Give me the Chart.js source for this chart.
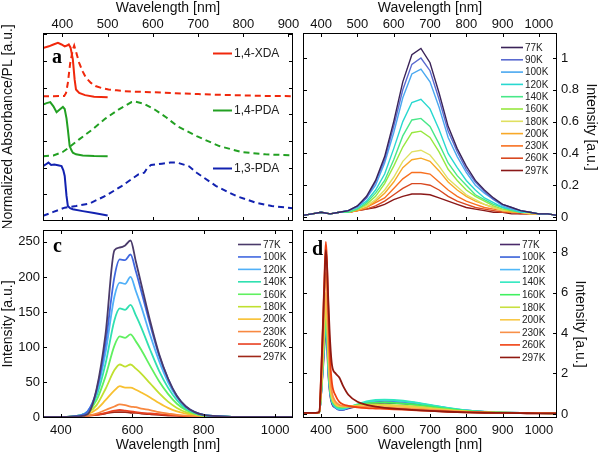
<!DOCTYPE html>
<html>
<head>
<meta charset="utf-8">
<script src="https://cdn.jsdelivr.net/npm/chart.js@4"></script>
<style>
  body { margin: 0; background: #fff; }
  #wrap { position: relative; width: 600px; height: 457px; }
  canvas { position: absolute; }
</style>
</head>
<body>
<div id="wrap">
  <canvas id="panelA" width="310" height="228" style="left:0;top:0"></canvas>
  <canvas id="panelB" width="300" height="228" style="left:300px;top:0"></canvas>
  <canvas id="panelC" width="300" height="229" style="left:0;top:228px"></canvas>
  <canvas id="panelD" width="300" height="229" style="left:300px;top:228px"></canvas>
</div>
<script>
// ---- panel a: absorbance (solid) and PL (dashed), offset stack ----
const xdaAbsWl = [357, 370, 380, 390, 398, 405, 410, 414, 418, 423, 427, 430, 437, 450, 470, 500];
const xdaAbs = [6.49, 6.55, 6.62, 6.68, 6.62, 6.55, 6.58, 6.62, 6.5, 6.06, 5.3, 4.93, 4.8, 4.72, 4.66, 4.64];
const xdaPlWl = [357, 380, 404, 408, 412, 417, 423, 426, 430, 437, 445, 452, 463, 473, 490, 502, 520, 538, 560, 600, 650, 700, 750, 800, 850, 910];
const xdaPl = [4.68, 4.68, 4.69, 4.8, 5.18, 5.9, 6.43, 6.58, 6.35, 5.93, 5.6, 5.37, 5.18, 5.06, 4.97, 4.93, 4.9, 4.87, 4.85, 4.83, 4.79, 4.76, 4.73, 4.71, 4.69, 4.68];
const pda14AbsWl = [357, 365, 373, 380, 387, 394, 401, 405, 409, 412, 416, 420, 423, 430, 445, 470, 500];
const pda14Abs = [4.37, 4.42, 4.46, 4.3, 4.08, 4.18, 4.28, 4.2, 3.85, 3.43, 2.81, 2.65, 2.56, 2.5, 2.46, 2.44, 2.43];
const pda14PlWl = [357, 380, 400, 409, 437, 466, 495, 524, 553, 560, 580, 604, 630, 654, 697, 747, 798, 849, 910];
const pda14Pl = [2.43, 2.46, 2.58, 2.69, 3.06, 3.43, 3.84, 4.18, 4.46, 4.48, 4.4, 4.18, 3.88, 3.56, 3.18, 2.81, 2.58, 2.5, 2.46];
const pda13AbsWl = [357, 363, 369, 375, 382, 390, 398, 402, 405, 409, 412, 417, 423, 445, 470, 500];
const pda13Abs = [2.06, 2.12, 2.19, 2.1, 2.12, 2.09, 2.06, 1.9, 1.69, 0.94, 0.56, 0.48, 0.44, 0.37, 0.3, 0.21];
const pda13PlWl = [357, 380, 405, 430, 459, 495, 531, 568, 581, 588, 596, 620, 639, 654, 680, 697, 740, 784, 827, 863, 910];
const pda13Pl = [0.19, 0.34, 0.5, 0.56, 0.65, 0.94, 1.31, 1.75, 1.81, 2.0, 2.1, 2.15, 2.19, 2.19, 2.05, 1.81, 1.31, 0.94, 0.69, 0.56, 0.48];
const aTicksX = [400, 500, 600, 700, 800, 900];
const aTicksY = [1, 2, 3, 4, 5, 6, 7];

// ---- panel b: temperature series, normalized ----
const bWl = [350, 375, 400, 425, 450, 475, 500, 525, 550, 575, 600, 625, 650, 675, 700, 725, 750, 775, 800, 825, 850, 875, 900, 925, 950, 975, 1000, 1025, 1050];
const bTemps = ['77K', '90K', '100K', '120K', '140K', '160K', '180K', '200K', '230K', '260K', '297K'];
const b77 = [0.01, 0.02, 0.03, 0.02, 0.03, 0.04, 0.07, 0.13, 0.23, 0.38, 0.60, 0.85, 1.02, 1.06, 0.97, 0.78, 0.57, 0.43, 0.32, 0.23, 0.17, 0.12, 0.08, 0.06, 0.04, 0.03, 0.02, 0.02, 0.01];
const b90 = [0.01, 0.02, 0.03, 0.02, 0.03, 0.04, 0.07, 0.12, 0.22, 0.36, 0.57, 0.80, 0.96, 1.00, 0.92, 0.74, 0.54, 0.41, 0.30, 0.22, 0.16, 0.11, 0.08, 0.06, 0.04, 0.03, 0.02, 0.02, 0.01];
const b100 = [0.01, 0.02, 0.03, 0.02, 0.03, 0.04, 0.06, 0.12, 0.20, 0.34, 0.53, 0.75, 0.90, 0.93, 0.85, 0.69, 0.50, 0.38, 0.28, 0.20, 0.15, 0.11, 0.07, 0.05, 0.04, 0.03, 0.02, 0.02, 0.01];
const b120 = [0.01, 0.02, 0.03, 0.02, 0.03, 0.04, 0.06, 0.10, 0.17, 0.27, 0.43, 0.60, 0.72, 0.74, 0.68, 0.55, 0.40, 0.31, 0.23, 0.17, 0.12, 0.09, 0.06, 0.05, 0.03, 0.03, 0.02, 0.02, 0.01];
const b140 = [0.01, 0.02, 0.03, 0.02, 0.03, 0.03, 0.05, 0.09, 0.15, 0.23, 0.36, 0.51, 0.61, 0.62, 0.57, 0.46, 0.34, 0.26, 0.20, 0.14, 0.11, 0.08, 0.06, 0.04, 0.03, 0.03, 0.02, 0.02, 0.01];
const b160 = [0.01, 0.02, 0.03, 0.02, 0.03, 0.03, 0.05, 0.08, 0.13, 0.21, 0.32, 0.44, 0.53, 0.54, 0.50, 0.41, 0.30, 0.23, 0.17, 0.13, 0.10, 0.07, 0.05, 0.04, 0.03, 0.03, 0.02, 0.02, 0.01];
const b180 = [0.01, 0.02, 0.03, 0.02, 0.03, 0.03, 0.05, 0.07, 0.11, 0.17, 0.25, 0.35, 0.41, 0.42, 0.39, 0.32, 0.24, 0.19, 0.14, 0.11, 0.08, 0.06, 0.04, 0.04, 0.03, 0.02, 0.02, 0.02, 0.01];
const b200 = [0.01, 0.02, 0.03, 0.02, 0.03, 0.03, 0.04, 0.06, 0.10, 0.15, 0.22, 0.31, 0.36, 0.37, 0.35, 0.29, 0.22, 0.17, 0.13, 0.10, 0.08, 0.06, 0.04, 0.03, 0.03, 0.02, 0.02, 0.02, 0.01];
const b230 = [0.01, 0.02, 0.03, 0.02, 0.03, 0.03, 0.04, 0.06, 0.09, 0.12, 0.18, 0.24, 0.28, 0.28, 0.27, 0.22, 0.17, 0.13, 0.10, 0.08, 0.06, 0.05, 0.04, 0.03, 0.03, 0.02, 0.02, 0.02, 0.01];
const b260 = [0.01, 0.02, 0.03, 0.02, 0.03, 0.03, 0.04, 0.05, 0.07, 0.10, 0.14, 0.18, 0.21, 0.21, 0.20, 0.17, 0.13, 0.10, 0.08, 0.06, 0.05, 0.04, 0.03, 0.03, 0.02, 0.02, 0.02, 0.02, 0.01];
const b297 = [0.01, 0.02, 0.03, 0.02, 0.03, 0.03, 0.04, 0.05, 0.06, 0.08, 0.11, 0.13, 0.145, 0.145, 0.14, 0.12, 0.10, 0.08, 0.06, 0.05, 0.04, 0.03, 0.03, 0.02, 0.02, 0.02, 0.02, 0.02, 0.01];
const bColors = ['#3a2358', '#5a6ad0', '#4aa8f0', '#28d8d0', '#48e888', '#98e840', '#e0e060', '#f8a828', '#f87020', '#d84820', '#8a1818'];
const bTicksX = [400, 500, 600, 700, 800, 900, 1000];
const bTicksY = [0, 0.2, 0.4, 0.6, 0.8, 1];

// ---- panel c ----
const cWl = [350, 400, 450, 475, 500, 525, 550, 565, 580, 595, 610, 625, 650, 675, 700, 725, 750, 775, 800, 850, 900, 950, 1000, 1050];
const cTemps = ['77K', '100K', '120K', '140K', '160K', '180K', '200K', '230K', '260K', '297K'];
const c77 = [0, 0, 1, 4, 40, 118, 238, 242, 245, 252, 222, 190, 137, 90, 55, 30, 15, 7, 3, 1, 0, 0, 0, 0];
const c100 = [0, 0, 2, 8, 38, 105, 200, 225, 224, 232, 208, 180, 132, 88, 55, 30, 15, 7, 3, 1, 0, 0, 0, 0];
const c120 = [0, 0, 2, 8, 35, 92, 172, 192, 190, 200, 180, 158, 117, 80, 50, 28, 14, 7, 3, 1, 0, 0, 0, 0];
const c140 = [0, 0, 2, 8, 30, 76, 138, 155, 153, 160, 145, 128, 96, 66, 42, 24, 12, 6, 3, 1, 0, 0, 0, 0];
const c160 = [0, 0, 2, 7, 24, 58, 102, 115, 113, 118, 108, 96, 73, 51, 33, 19, 10, 5, 2, 1, 0, 0, 0, 0];
const c180 = [0, 0, 2, 6, 17, 40, 67, 75, 72, 75, 69, 62, 48, 34, 22, 13, 7, 4, 2, 1, 0, 0, 0, 0];
const c200 = [0, 0, 1, 4, 11, 24, 38, 44, 42, 42, 39, 35, 28, 20, 13, 8, 5, 3, 1, 0, 0, 0, 0, 0];
const c230 = [0, 0, 1, 2, 5, 10, 15, 18, 17, 15, 14, 12, 10, 7, 5, 3, 2, 1, 1, 0, 0, 0, 0, 0];
const c260 = [0, 0, 1, 2, 3, 6, 9, 10, 9, 8, 7, 6, 5, 4, 3, 2, 1, 1, 0, 0, 0, 0, 0, 0];
const c297 = [0, 0, 1, 2, 3, 5, 7, 7, 7, 6, 6, 5, 4, 3, 2, 2, 1, 1, 0, 0, 0, 0, 0, 0];
const cColors = ['#4a3a6a', '#4068e0', '#50b0f8', '#30e0b0', '#60f060', '#c0e030', '#f8c030', '#f88840', '#e84020', '#a02818'];
const cTicksX = [400, 600, 800, 1000];
const cTicksY = [0, 50, 100, 150, 200, 250];

// ---- panel d ----
const dWl = [350, 385, 395, 400, 405, 410, 413, 416, 420, 425, 430, 440, 450, 460, 475, 500, 525, 550, 575, 600, 650, 700, 750, 800, 850, 900, 950, 1000, 1050];
const dTemps = ['77K', '100K', '120K', '140K', '160K', '180K', '200K', '230K', '260K', '297K'];
const d77 = [0.05, 0.05, 0.08, 1.0, 2.2, 3.6, 4.2, 3.5, 1.9, 0.9, 0.5, 0.3, 0.22, 0.22, 0.28, 0.38, 0.46, 0.52, 0.55, 0.54, 0.48, 0.37, 0.25, 0.16, 0.1, 0.07, 0.05, 0.04, 0.03];
const d100 = [0.05, 0.05, 0.08, 1.0, 2.4, 3.9, 4.5, 3.8, 2.1, 1.0, 0.55, 0.3, 0.2, 0.2, 0.3, 0.42, 0.55, 0.62, 0.65, 0.63, 0.55, 0.42, 0.28, 0.17, 0.1, 0.07, 0.05, 0.04, 0.03];
const d120 = [0.05, 0.05, 0.08, 1.0, 2.5, 4.0, 4.7, 4.0, 2.2, 1.05, 0.6, 0.33, 0.24, 0.24, 0.32, 0.45, 0.58, 0.65, 0.68, 0.66, 0.57, 0.43, 0.29, 0.17, 0.1, 0.07, 0.05, 0.04, 0.03];
const d140 = [0.05, 0.05, 0.08, 1.0, 2.5, 4.1, 4.8, 4.1, 2.3, 1.1, 0.62, 0.35, 0.27, 0.28, 0.35, 0.48, 0.62, 0.69, 0.71, 0.69, 0.6, 0.45, 0.3, 0.18, 0.11, 0.07, 0.05, 0.04, 0.03];
const d160 = [0.05, 0.05, 0.08, 1.1, 2.6, 4.3, 5.0, 4.3, 2.5, 1.2, 0.7, 0.42, 0.34, 0.33, 0.36, 0.44, 0.52, 0.56, 0.57, 0.55, 0.48, 0.37, 0.25, 0.15, 0.1, 0.07, 0.05, 0.04, 0.03];
const d180 = [0.05, 0.05, 0.08, 1.1, 2.8, 4.6, 5.3, 4.6, 2.7, 1.3, 0.75, 0.45, 0.37, 0.36, 0.37, 0.42, 0.46, 0.47, 0.46, 0.44, 0.38, 0.3, 0.21, 0.13, 0.09, 0.06, 0.05, 0.04, 0.03];
const d200 = [0.05, 0.05, 0.08, 1.3, 3.1, 5.1, 6.0, 5.2, 3.1, 1.5, 0.85, 0.5, 0.4, 0.38, 0.38, 0.4, 0.41, 0.41, 0.4, 0.38, 0.32, 0.25, 0.18, 0.12, 0.08, 0.06, 0.05, 0.04, 0.03];
const d230 = [0.05, 0.05, 0.08, 1.5, 3.6, 6.0, 7.0, 6.1, 3.7, 1.8, 1.05, 0.6, 0.45, 0.4, 0.37, 0.36, 0.35, 0.34, 0.32, 0.3, 0.25, 0.2, 0.15, 0.1, 0.07, 0.05, 0.04, 0.04, 0.03];
const d260 = [0.05, 0.05, 0.1, 2.0, 4.5, 7.3, 8.5, 7.6, 5.0, 2.6, 1.5, 0.9, 0.6, 0.48, 0.4, 0.33, 0.29, 0.27, 0.25, 0.23, 0.19, 0.15, 0.11, 0.08, 0.06, 0.05, 0.04, 0.03, 0.03];
const d297 = [0.05, 0.05, 0.1, 1.9, 4.3, 7.0, 8.1, 7.4, 5.5, 3.5, 2.4, 2.0, 1.8, 1.4, 0.95, 0.6, 0.45, 0.36, 0.3, 0.26, 0.2, 0.15, 0.11, 0.08, 0.06, 0.05, 0.04, 0.03, 0.03];
const dColors = ['#4a2a6a', '#3860d8', '#50b8f8', '#30e8c0', '#40f060', '#c8e040', '#f8c848', '#f89048', '#f04010', '#901810'];
const dTicksX = [400, 500, 600, 700, 800, 900, 1000];
const dTicksY = [0, 2, 4, 6, 8];

const FONT = '"Liberation Sans", Arial, sans-serif';
Chart.defaults.font.family = FONT;
Chart.defaults.color = '#111';

function series(wl, vals, color, label, opts) {
  return Object.assign({
    label: label,
    data: wl.map((x, i) => ({ x: x, y: vals[i] })),
    borderColor: color,
    borderWidth: 1.6,
    pointRadius: 0,
    fill: false,
    inLegend: !!label
  }, opts || {});
}

function axis(pos, min, max, ticks, size, title, o) {
  o = o || {};
  const horiz = pos === 'top' || pos === 'bottom';
  return {
    type: 'linear', position: pos, min: min, max: max, bounds: 'data',
    grid: { display: false, drawTicks: false },
    border: { display: false },
    afterBuildTicks: s => { s.ticks = ticks.map(v => ({ value: v })); },
    afterFit: s => {
      if (horiz) s.height = size; else s.width = size;
      s.paddingTop = s.paddingBottom = s.paddingLeft = s.paddingRight = 0;
    },
    ticks: {
      display: o.labels !== false, autoSkip: false, maxRotation: 0,
      padding: o.labelPad || 3, font: { size: 13 }, color: '#111',
      callback: v => String(v)
    },
    title: {
      display: !!title, text: title, font: { size: 14 }, color: '#111',
      padding: { top: o.titlePad || 0, bottom: o.titlePad || 0 }
    }
  };
}

// box frame with inward ticks on all four sides
const framePlugin = {
  id: 'frame',
  afterDatasetsDraw(chart) {
    const { ctx, chartArea: a, scales } = chart;
    ctx.save();
    ctx.strokeStyle = '#000';
    ctx.lineWidth = 1;
    ctx.setLineDash([]);
    ctx.strokeRect(a.left + 0.5, a.top + 0.5, a.width - 1, a.height - 1);
    ctx.beginPath();
    scales.x.ticks.forEach(t => {
      const px = Math.round(scales.x.getPixelForValue(t.value)) + 0.5;
      ctx.moveTo(px, a.top); ctx.lineTo(px, a.top + 4);
      ctx.moveTo(px, a.bottom); ctx.lineTo(px, a.bottom - 4);
    });
    scales.y.ticks.forEach(t => {
      const py = Math.round(scales.y.getPixelForValue(t.value)) + 0.5;
      ctx.moveTo(a.left, py); ctx.lineTo(a.left + 4, py);
      ctx.moveTo(a.right, py); ctx.lineTo(a.right - 4, py);
    });
    ctx.stroke();
    ctx.restore();
  }
};

// legend drawn inside the plot + panel letter
const innerLegend = {
  id: 'innerLegend',
  afterDraw(chart, args, opts) {
    const ctx = chart.ctx;
    ctx.save();
    ctx.font = (opts.fontSize || 10) + 'px ' + FONT;
    ctx.textBaseline = 'middle';
    ctx.fillStyle = '#222';
    chart.data.datasets.filter(d => d.inLegend).forEach((d, i) => {
      const y = d.legendY !== undefined ? d.legendY : opts.y0 + i * opts.step;
      ctx.strokeStyle = d.borderColor;
      ctx.lineWidth = opts.lineWidth || 1.6;
      ctx.setLineDash([]);
      ctx.beginPath();
      ctx.moveTo(opts.x0, y + 0.5);
      ctx.lineTo(opts.x1, y + 0.5);
      ctx.stroke();
      ctx.fillText(d.label, opts.x1 + 2, y + 1);
    });
    ctx.font = 'bold 20px "Liberation Serif", "Times New Roman", serif';
    ctx.fillStyle = '#000';
    ctx.textBaseline = 'alphabetic';
    ctx.fillText(opts.tag, opts.tagX, opts.tagY);
    ctx.restore();
  }
};

function makeChart(id, datasets, pad, scales, legend) {
  return new Chart(document.getElementById(id), {
    type: 'line',
    data: { datasets: datasets },
    options: {
      responsive: false,
      animation: false,
      devicePixelRatio: 1,
      layout: { padding: pad },
      plugins: { legend: { display: false }, tooltip: { enabled: false }, innerLegend: legend },
      scales: scales
    },
    plugins: [framePlugin, innerLegend]
  });
}

// panel a
const red = '#f0280c', green = '#22a022', blue = '#1222b0';
makeChart('panelA', [
  series(xdaAbsWl, xdaAbs, red, '1,4-XDA', { borderWidth: 2, legendY: 53 }),
  series(xdaPlWl, xdaPl, red, '', { borderWidth: 2, borderDash: [6, 4] }),
  series(pda14AbsWl, pda14Abs, green, '1,4-PDA', { borderWidth: 2, legendY: 110 }),
  series(pda14PlWl, pda14Pl, green, '', { borderWidth: 2, borderDash: [6, 4] }),
  series(pda13AbsWl, pda13Abs, blue, '1,3-PDA', { borderWidth: 2, legendY: 168 }),
  series(pda13PlWl, pda13Pl, blue, '', { borderWidth: 2, borderDash: [6, 4] })
], { left: 0, top: 0, right: 17, bottom: 7 }, {
  x: axis('top', 357, 910, aTicksX, 33, 'Wavelength [nm]', { labelPad: 1 }),
  y: axis('left', 0, 7.05, aTicksY, 43, 'Normalized Absorbance/PL [a.u.]', { labels: false })
}, { x0: 213, x1: 232, fontSize: 12, lineWidth: 2, tag: 'a', tagX: 52, tagY: 63 });

// panel b
const bVals = [b77, b90, b100, b120, b140, b160, b180, b200, b230, b260, b297];
makeChart('panelB', bVals.map((v, i) => series(bWl, v, bColors[i], bTemps[i], { borderWidth: 1.4 })),
  { left: 3, top: 0, right: 0, bottom: 7 }, {
  x: axis('top', 350, 1050, bTicksX, 33, 'Wavelength [nm]', { labelPad: 1 }),
  y: axis('right', -0.025, 1.157, bTicksY, 43, 'Intensity [a.u.]', { labelPad: 4, titlePad: 1 })
}, { x0: 201, x1: 223, y0: 47, step: 12.3, tag: 'b', tagX: 316, tagY: 67 });

// panel c
const cVals = [c77, c100, c120, c140, c160, c180, c200, c230, c260, c297];
makeChart('panelC', cVals.map((v, i) => series(cWl, v, cColors[i], cTemps[i], { borderWidth: 1.8, cubicInterpolationMode: 'monotone' })),
  { left: 0, top: 2, right: 7, bottom: 0 }, {
  x: axis('bottom', 350, 1050, cTicksX, 39, 'Wavelength [nm]', { labelPad: 5, titlePad: 3 }),
  y: axis('left', -1.4, 267, cTicksY, 43, 'Intensity [a.u.]', { labelPad: 3 })
}, { x0: 238, x1: 261, y0: 16, step: 12.44, tag: 'c', tagX: 53, tagY: 24 });

// panel d
const dVals = [d77, d100, d120, d140, d160, d180, d200, d230, d260, d297];
makeChart('panelD', dVals.map((v, i) => series(dWl, v, dColors[i], dTemps[i], { borderWidth: 1.8, cubicInterpolationMode: 'monotone', order: -i })),
  { left: 3, top: 2, right: 0, bottom: 0 }, {
  x: axis('bottom', 350, 1050, dTicksX, 39, 'Wavelength [nm]', { labelPad: 5, titlePad: 3 }),
  y: axis('right', -0.2, 9.09, dTicksY, 43, 'Intensity [a.u.]', { labelPad: 4, titlePad: 12 })
}, { x0: 200, x1: 220, y0: 16, step: 12.55, tag: 'd', tagX: 12, tagY: 27 });
</script>
</body>
</html>
